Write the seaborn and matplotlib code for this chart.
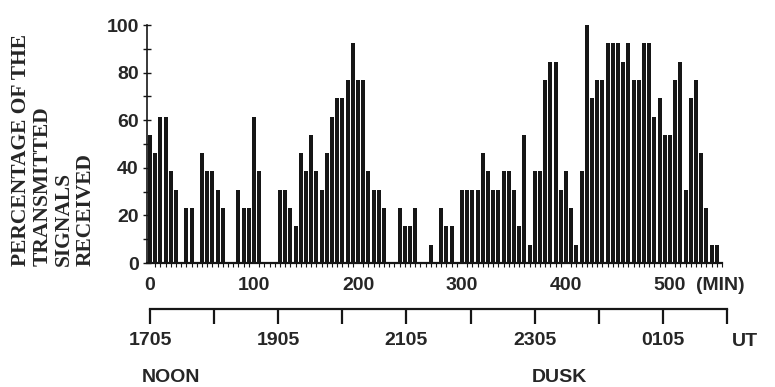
""" signal reception percentage vs time, with UT time axis """
import matplotlib
matplotlib.use("Agg")
import matplotlib.pyplot as plt
from matplotlib.ticker import MultipleLocator, FixedLocator
import seaborn as sns

# 5-minute bins starting at 1705 UT
bin_minutes = list(range(0, 550, 5))
pct_received = [
    53.8, 46.2, 61.5, 61.5, 38.5, 30.8, 0, 23.1, 23.1, 0,
    46.2, 38.5, 38.5, 30.8, 23.1, 0, 0, 30.8, 23.1, 23.1,
    61.5, 38.5, 0, 0, 0, 30.8, 30.8, 23.1, 15.4, 46.2,
    38.5, 53.8, 38.5, 30.8, 46.2, 61.5, 69.2, 69.2, 76.9, 92.3,
    76.9, 76.9, 38.5, 30.8, 30.8, 23.1, 0, 0, 23.1, 15.4,
    15.4, 23.1, 0, 0, 7.7, 0, 23.1, 15.4, 15.4, 0,
    30.8, 30.8, 30.8, 30.8, 46.2, 38.5, 30.8, 30.8, 38.5, 38.5,
    30.8, 15.4, 53.8, 7.7, 38.5, 38.5, 76.9, 84.6, 84.6, 30.8,
    38.5, 23.1, 7.7, 38.5, 100, 69.2, 76.9, 76.9, 92.3, 92.3,
    92.3, 84.6, 92.3, 76.9, 76.9, 92.3, 92.3, 61.5, 69.2, 53.8,
    53.8, 76.9, 84.6, 30.8, 69.2, 76.9, 46.2, 23.1, 7.7, 7.7,
]
min_ticks = [0, 100, 200, 300, 400, 500]
pct_ticks = [0, 20, 40, 60, 80, 100]
ut_ticks = [0, 60, 120, 180, 240, 300, 360, 420, 480, 540]
ut_labels = ["1705", "", "1905", "", "2105", "", "2305", "", "0105", ""]

sns.set_style("ticks")
plt.rcParams["font.family"] = ["Liberation Sans", "DejaVu Sans"]
plt.rcParams["font.weight"] = "bold"

W, H = 775, 387
fig = plt.figure(figsize=(W / 100, H / 100), dpi=100)


def px_axes(left, top, right, bottom):
    return fig.add_axes([left / W, 1 - bottom / H, (right - left) / W, (bottom - top) / H])


ink = "#161616"
ax = px_axes(147, 25, 722, 263)
sns.barplot(x=bin_minutes, y=pct_received, native_scale=True, color=ink, saturation=1,
            width=0.74, errorbar=None, ax=ax, linewidth=0)
ax.set_xlim(-2.9, 550)
ax.set_ylim(0, 100)
sns.despine(ax=ax)
ax.spines["left"].set_linewidth(1.2)
ax.spines["bottom"].set_linewidth(1.6)
ax.spines["left"].set_color(ink)
ax.spines["bottom"].set_color(ink)
ax.xaxis.set_major_locator(FixedLocator(min_ticks))
ax.xaxis.set_minor_locator(MultipleLocator(5))
ax.yaxis.set_major_locator(FixedLocator(pct_ticks))
ax.yaxis.set_minor_locator(MultipleLocator(10))
ax.set_xticklabels([str(t) for t in min_ticks])
ax.set_yticklabels([str(t) for t in pct_ticks])
ax.tick_params(axis="x", which="major", length=0, pad=10, labelsize=14)
ax.tick_params(axis="x", which="minor", length=3, width=0.8, direction="out", color=ink)
ax.tick_params(axis="y", which="both", length=6, width=1, direction="inout", color=ink,
               pad=3, labelsize=14)
ax.set_xlabel("")
ax.set_ylabel("")

fig.text(720 / W, 1 - 285 / H, "(MIN)", ha="center", va="center", fontsize=14)

fig.text(11 / W, 1 - 266 / H, "PERCENTAGE OF THE\nTRANSMITTED\nSIGNALS\nRECEIVED",
         rotation=90, ha="left", va="bottom", multialignment="left",
         family="Liberation Serif", weight="bold", fontsize=15.5, linespacing=1.1)

# UT axis underneath
ut = px_axes(150, 305, 727, 309)
ut.set_xlim(0, 540)
ut.set_ylim(0, 1)
ut.set_yticks([])
for side in ["left", "right", "top"]:
    ut.spines[side].set_visible(False)
ut.spines["bottom"].set_linewidth(1.6)
ut.spines["bottom"].set_color(ink)
ut.set_facecolor("none")
ut.xaxis.set_major_locator(FixedLocator(ut_ticks))
ut.set_xticklabels(ut_labels)
ut.tick_params(axis="x", length=10.5, width=1.6, direction="out", color=ink, pad=6, labelsize=14)

fig.text(745 / W, 1 - 341 / H, "UT", ha="center", va="center", fontsize=14)
fig.text(142 / W, 1 - 378 / H, "NOON", ha="left", va="center", fontsize=14)
fig.text(532 / W, 1 - 378 / H, "DUSK", ha="left", va="center", fontsize=14)

fig.savefig("out.png", dpi=100)
